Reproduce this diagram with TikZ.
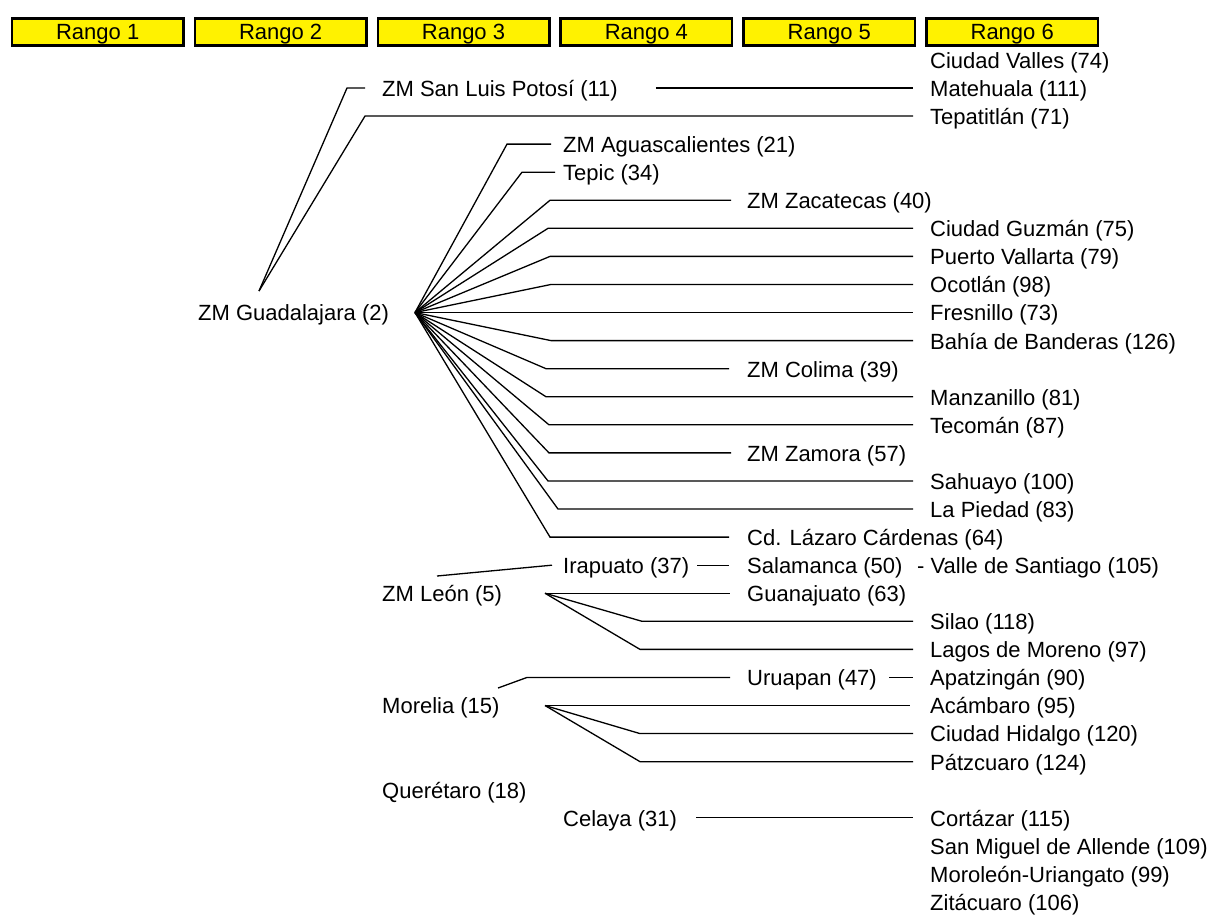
\documentclass[tikz,border=0pt]{standalone}
\usepackage{fontspec}
\setmainfont{Liberation Sans}
\begin{document}
\begin{tikzpicture}[x=1pt,y=-1pt,
  every node/.style={font=\fontsize{22}{26}\selectfont},
  lbl/.style={anchor=west,inner sep=0pt,text height=17pt,text depth=0.2pt},
  rango/.style={draw=black,fill=yellow,line width=2.7pt,minimum width=171.3pt,minimum height=27.3pt,inner sep=0pt,text height=15.8pt,text depth=0pt},
  conn/.style={draw=black,line width=1.3pt,line join=miter}]
\useasboundingbox (0,0) rectangle (1215,914);
% header
\foreach \i in {1,...,6}{
  \node[rango] (r\i) at ({97.7+182.9*(\i-1)},32) {Rango \i};
}
% column 1-3
\node[lbl] (gdl) at (198,312.53) {ZM Guadalajara (2)};
\node[lbl] (slp) at (382,87.97) {ZM San Luis Potosí (11)};
\node[lbl] (leon) at (382,593.23) {ZM León (5)};
\node[lbl] (mor) at (382,705.51) {Morelia (15)};
\node[lbl] (qro) at (382,789.72) {Querétaro (18)};
% column 4
\node[lbl] (ags) at (563,144.11) {ZM Aguascalientes (21)};
\node[lbl] (tep) at (563,172.18) {Tepic (34)};
\node[lbl] (ira) at (563,565.16) {Irapuato (37)};
\node[lbl] (cel) at (563,817.79) {Celaya (31)};
% column 5
\node[lbl] (zac) at (747,200.25) {ZM Zacatecas (40)};
\node[lbl] (col) at (747,368.67) {ZM Colima (39)};
\node[lbl] (zam) at (747,452.88) {ZM Zamora (57)};
\node[lbl] (laz) at (747,537.09) {Cd. Lázaro Cárdenas (64)};
\node[lbl] (sal) at (747,565.16) {Salamanca (50)};
\node[lbl] (gto) at (747,593.23) {Guanajuato (63)};
\node[lbl] (uru) at (747,677.44) {Uruapan (47)};
% column 6
\node[lbl] (cva) at (930,59.9) {Ciudad Valles (74)};
\node[lbl] (mat) at (930,87.97) {Matehuala (111)};
\node[lbl] (tpt) at (930,116.04) {Tepatitlán (71)};
\node[lbl] (guz) at (930,228.32) {Ciudad Guzmán (75)};
\node[lbl] (pva) at (930,256.39) {Puerto Vallarta (79)};
\node[lbl] (oco) at (930,284.46) {Ocotlán (98)};
\node[lbl] (fre) at (930,312.53) {Fresnillo (73)};
\node[lbl] (bah) at (930,340.6) {Bahía de Banderas (126)};
\node[lbl] (man) at (930,396.74) {Manzanillo (81)};
\node[lbl] (tec) at (930,424.81) {Tecomán (87)};
\node[lbl] (sah) at (930,480.95) {Sahuayo (100)};
\node[lbl] (lpi) at (930,509.02) {La Piedad (83)};
\node[lbl] (vsa) at (917,565.16) {- Valle de Santiago (105)};
\node[lbl] (sil) at (930,621.3) {Silao (118)};
\node[lbl] (lag) at (930,649.37) {Lagos de Moreno (97)};
\node[lbl] (apa) at (930,677.44) {Apatzingán (90)};
\node[lbl] (aca) at (930,705.51) {Acámbaro (95)};
\node[lbl] (hid) at (930,733.58) {Ciudad Hidalgo (120)};
\node[lbl] (pat) at (930,761.65) {Pátzcuaro (124)};
\node[lbl] (cor) at (930,817.79) {Cortázar (115)};
\node[lbl] (sma) at (930,845.86) {San Miguel de Allende (109)};
\node[lbl] (mur) at (930,873.93) {Moroleón-Uriangato (99)};
\node[lbl] (zit) at (930,902.0) {Zitácuaro (106)};
% junction coordinates
\coordinate (gtop) at (259,291);
\coordinate (ghub) at (415,312.53);
\coordinate (ltop) at (437,576);
\coordinate (lhub) at (545,593.23);
\coordinate (mtop) at (498,688);
\coordinate (mhub) at (545,705.51);
% Guadalajara upward
\draw[conn] (gtop) -- (347,87.97) -- ([xshift=-17pt]slp.west);
\draw[conn] (gtop) -- (365,116.04) -- ([xshift=-17pt]tpt.west);
\draw[conn] ([xshift=38pt]slp.east) -- ([xshift=-17pt]mat.west);
% Guadalajara fan
\draw[conn] (ghub) -- (507,144.11) -- ([xshift=-12pt]ags.west);
\draw[conn] (ghub) -- (522,172.18) -- ([xshift=-8pt]tep.west);
\draw[conn] (ghub) -- (550,200.25) -- ([xshift=-16pt]zac.west);
\draw[conn] (ghub) -- (548,228.32) -- ([xshift=-17pt]guz.west);
\draw[conn] (ghub) -- (550,256.39) -- ([xshift=-17pt]pva.west);
\draw[conn] (ghub) -- (551,284.46) -- ([xshift=-17pt]oco.west);
\draw[conn] (ghub) -- ([xshift=-17pt]fre.west);
\draw[conn] (ghub) -- (551,340.6) -- ([xshift=-17pt]bah.west);
\draw[conn] (ghub) -- (546,368.67) -- ([xshift=-18pt]col.west);
\draw[conn] (ghub) -- (546,396.74) -- ([xshift=-17pt]man.west);
\draw[conn] (ghub) -- (549,424.81) -- ([xshift=-17pt]tec.west);
\draw[conn] (ghub) -- (549,452.88) -- ([xshift=-16pt]zam.west);
\draw[conn] (ghub) -- (548,480.95) -- ([xshift=-17pt]sah.west);
\draw[conn] (ghub) -- (558,509.02) -- ([xshift=-17pt]lpi.west);
\draw[conn] (ghub) -- (550,537.09) -- ([xshift=-18pt]laz.west);
% León
\draw[conn] (ltop) -- ([xshift=-11pt]ira.west);
\draw[conn] ([xshift=8pt]ira.east) -- ([xshift=-18pt]sal.west);
\draw[conn] (lhub) -- ([xshift=-17pt]gto.west);
\draw[conn] (lhub) -- (642,621.3) -- ([xshift=-17pt]sil.west);
\draw[conn] (lhub) -- (640,649.37) -- ([xshift=-17pt]lag.west);
% Morelia
\draw[conn] (mtop) -- (527,677.44) -- ([xshift=-17pt]uru.west);
\draw[conn] ([xshift=12pt]uru.east) -- ([xshift=-17pt]apa.west);
\draw[conn] (mhub) -- ([xshift=-20pt]aca.west);
\draw[conn] (mhub) -- (640,733.58) -- ([xshift=-17pt]hid.west);
\draw[conn] (mhub) -- (640,761.65) -- ([xshift=-17pt]pat.west);
% Celaya
\draw[conn] ([xshift=19pt]cel.east) -- ([xshift=-17pt]cor.west);
\end{tikzpicture}
\end{document}
